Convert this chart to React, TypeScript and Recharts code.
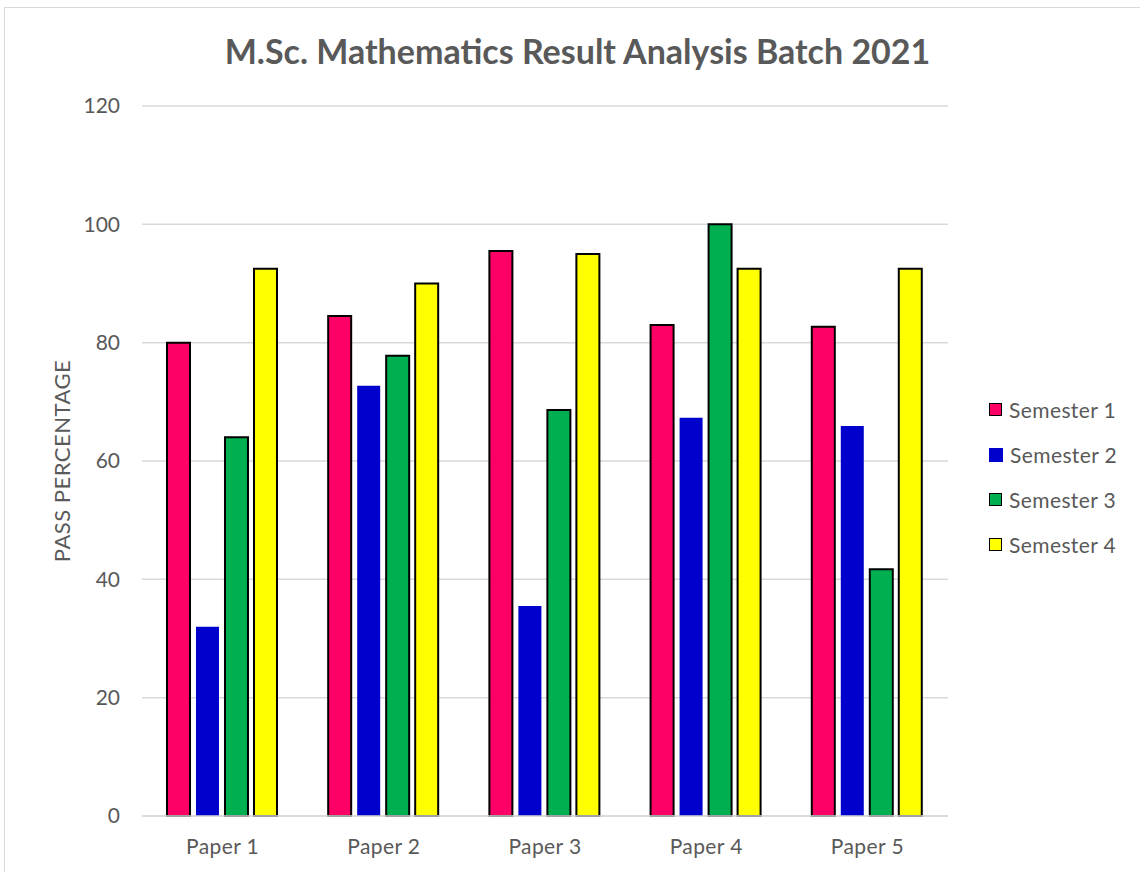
import { Bar, BarChart, CartesianGrid, XAxis, YAxis } from "recharts"

const papers = ["Paper 1", "Paper 2", "Paper 3", "Paper 4", "Paper 5"]
const semester1 = [80, 84.5, 95.5, 83, 82.7]
const semester2 = [32, 72.7, 35.5, 67.3, 65.9]
const semester3 = [64, 77.8, 68.6, 100, 41.7]
const semester4 = [92.5, 90, 95, 92.5, 92.5]
const yTicks = [0, 20, 40, 60, 80, 100, 120]

const series = [
  { key: "s1", name: "Semester 1", fill: "#FF0066", stroke: "#000000" },
  { key: "s2", name: "Semester 2", fill: "#0000CC", stroke: "none" },
  { key: "s3", name: "Semester 3", fill: "#00B050", stroke: "#000000" },
  { key: "s4", name: "Semester 4", fill: "#FFFF00", stroke: "#000000" },
]

const data = papers.map((p, i) => ({
  paper: p,
  s1: semester1[i],
  s2: semester2[i],
  s3: semester3[i],
  s4: semester4[i],
}))

const font = "Lato, 'Open Sans', sans-serif"

function LegendBox() {
  return (
    <div
      style={{
        position: "absolute",
        left: 989,
        top: 387,
        fontFamily: font,
        fontSize: 21,
        letterSpacing: 0.4,
        color: "#595959",
      }}
    >
      {series.map((s) => (
        <div key={s.key} style={{ display: "flex", alignItems: "center", height: 45 }}>
          <span
            style={{
              display: "inline-block",
              width: s.stroke === "none" ? 14 : 11,
              height: s.stroke === "none" ? 14 : 11,
              background: s.fill,
              border: s.stroke === "none" ? "none" : "1.5px solid #000",
              marginRight: 7,
            }}
          />
          {s.name}
        </div>
      ))}
    </div>
  )
}

export default function App() {
  return (
    <div style={{ position: "absolute", left: 0, top: 0, width: 1140, height: 872, background: "#fff", overflow: "hidden" }}>
      <div
        style={{
          position: "absolute",
          left: 4,
          top: 7,
          width: 1140,
          height: 872,
          border: "1px solid #d9d9d9",
        }}
      />
      <div
        style={{
          position: "absolute",
          left: 0,
          top: 30,
          width: 1155,
          textAlign: "center",
          fontFamily: font,
          fontWeight: 700,
          fontSize: 34,
          color: "#595959",
        }}
      >
        M.Sc. Mathematics Result Analysis Batch 2021
      </div>
      <div style={{ position: "absolute", left: 0, top: 0 }}>
        <BarChart
          width={1140}
          height={872}
          data={data}
          margin={{ top: 106, right: 192, bottom: 26, left: 0 }}
          barCategoryGap="15.5%"
          barGap={6}
        >
          <CartesianGrid vertical={false} stroke="#d9d9d9" strokeWidth={1.5} />
          <XAxis
            dataKey="paper"
            height={30}
            axisLine={{ stroke: "#d9d9d9", strokeWidth: 1.5 }}
            tickLine={false}
            tick={{ fill: "#595959", fontSize: 21, fontFamily: font, letterSpacing: 0.4 }}
            dy={15}
          />
          <YAxis
            width={142}
            domain={[0, 120]}
            ticks={yTicks}
            axisLine={false}
            tickLine={false}
            tick={{ fill: "#595959", fontSize: 21, fontFamily: font, dx: -14 }}
            label={{
              value: "PASS PERCENTAGE",
              angle: -90,
              position: "center",
              dx: -9,
              fill: "#595959",
              fontSize: 22,
              letterSpacing: 0.5,
              fontFamily: font,
            }}
          />
          {series.map((s) => (
            <Bar
              key={s.key}
              dataKey={s.key}
              name={s.name}
              fill={s.fill}
              stroke={s.stroke}
              strokeWidth={2}
              isAnimationActive={false}
            />
          ))}
        </BarChart>
      </div>
      <LegendBox />
    </div>
  )
}
